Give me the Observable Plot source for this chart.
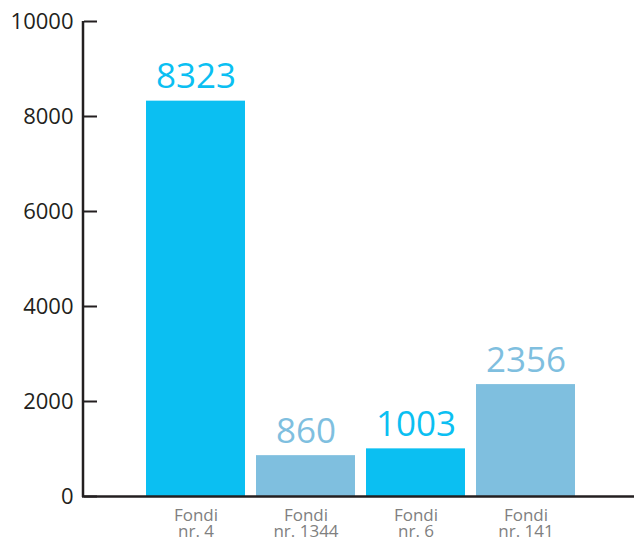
<!DOCTYPE html>
<html>
<head>
<meta charset="utf-8">
<script src="https://cdn.jsdelivr.net/npm/d3@7"></script>
<script src="https://cdn.jsdelivr.net/npm/@observablehq/plot@0.6"></script>
<style>
  html, body { margin: 0; padding: 0; background: #fff; }
  svg { display: block; }
</style>
</head>
<body>
<div id="chart"></div>
<script>
const categories = ["Fondi\nnr. 4", "Fondi\nnr. 1344", "Fondi\nnr. 6", "Fondi\nnr. 141"];
const values = [8323, 860, 1003, 2356];
const yTicks = [0, 2000, 4000, 6000, 8000, 10000];

const CYAN = "#0bbff2";
const LIGHT = "#7fbfdf";
const INK = "#231f20";

const data = categories.map((c, i) => ({category: c, value: values[i], index: i}));
const fillOf = d => (d.index % 2 === 0 ? CYAN : LIGHT);

// vertical axis line drawn from the y scale's domain at the frame's left edge
function yAxisLine(index, scales, values, dimensions) {
  const ns = "http://www.w3.org/2000/svg";
  const line = document.createElementNS(ns, "line");
  const [d0, d1] = scales.scales.y.domain;
  const x = dimensions.marginLeft - 1;
  line.setAttribute("x1", x);
  line.setAttribute("x2", x);
  line.setAttribute("y1", scales.y(d0) + 1);
  line.setAttribute("y2", scales.y(d1));
  line.setAttribute("stroke", INK);
  line.setAttribute("stroke-width", 2.5);
  return line;
}

const chart = Plot.plot({
  width: 634,
  height: 541,
  marginLeft: 84,
  marginRight: 0,
  marginTop: 21,
  marginBottom: 45,
  style: {fontFamily: "'Open Sans', sans-serif", background: "#fff"},
  x: {domain: categories, range: [138.5, 582], paddingInner: 0.1, paddingOuter: 0.05},
  y: {domain: [0, 10000]},
  marks: [
    Plot.barY(data, {x: "category", y: "value", fill: fillOf}),
    Plot.text(data, {
      x: "category", y: "value", text: d => String(d.value),
      fill: fillOf, fontSize: 35, lineAnchor: "bottom", dy: -13
    }),
    Plot.axisY({
      ticks: yTicks, tickFormat: d => String(d), tickSize: -13, tickPadding: 24,
      stroke: INK, strokeWidth: 2, fill: INK, fontSize: 22, label: null
    }),
    yAxisLine,
    Plot.ruleY([0], {stroke: INK, strokeWidth: 2.5, insetLeft: -2}),
    Plot.axisX({
      tickSize: 0, tickPadding: 13, fontSize: 17, fill: "#808080",
      lineHeight: 0.95, label: null
    })
  ]
});

document.getElementById("chart").appendChild(chart);
</script>
</body>
</html>
